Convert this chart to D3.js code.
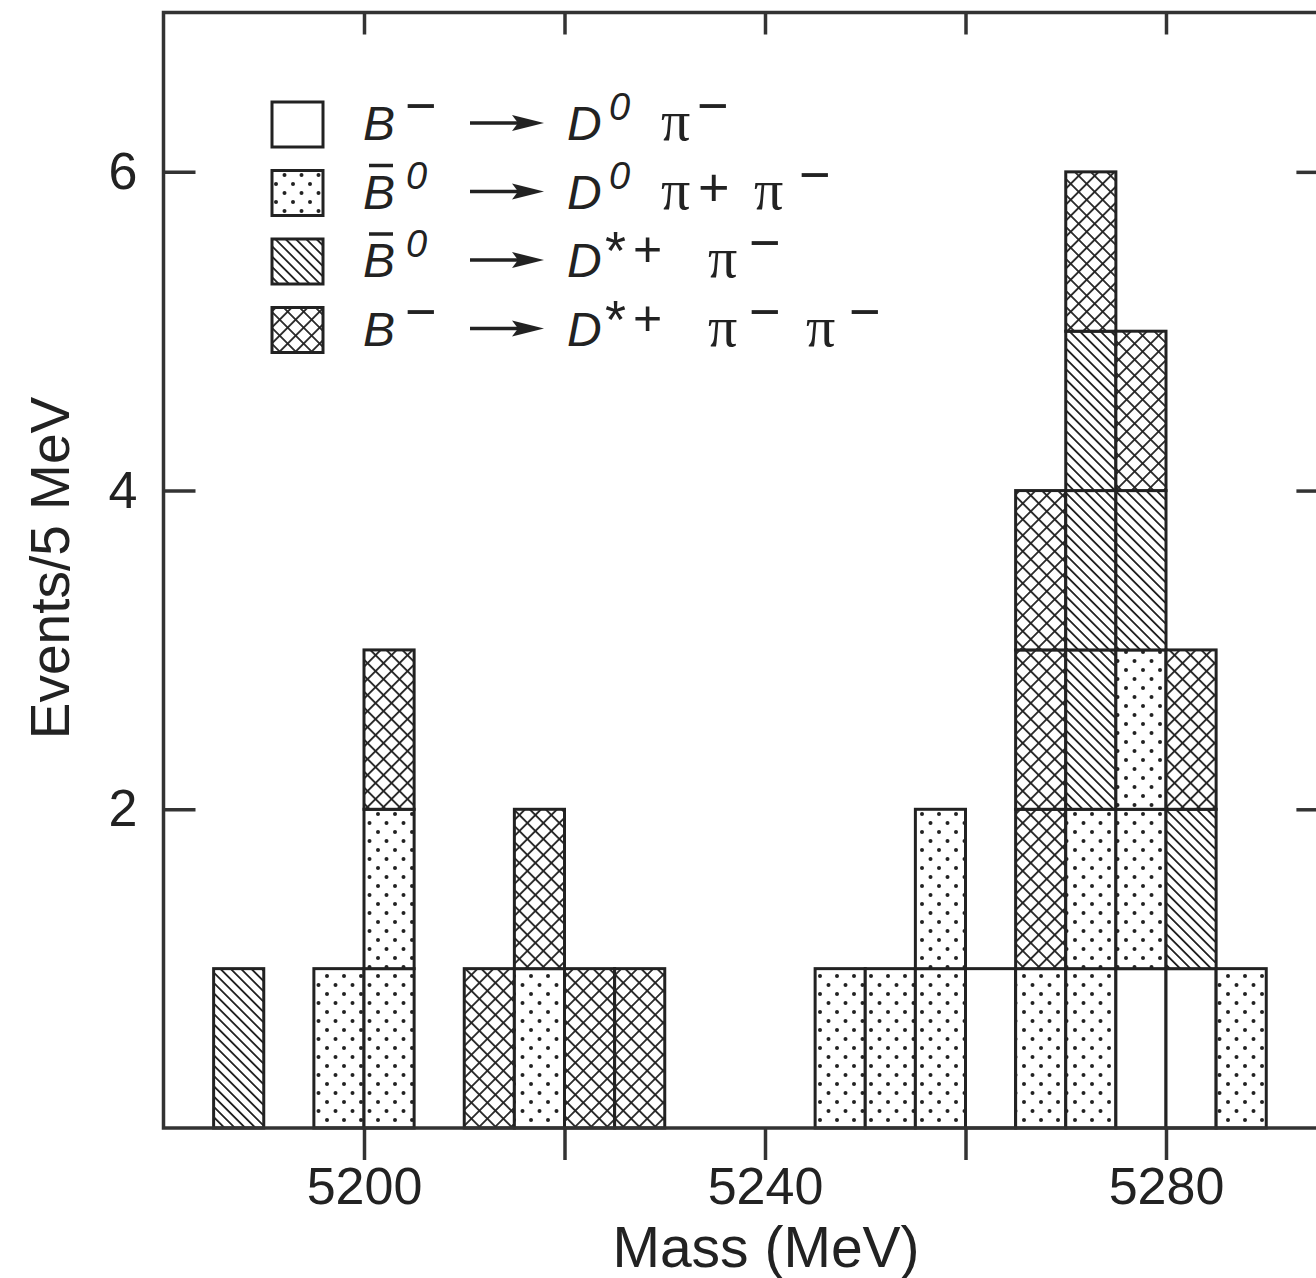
<!DOCTYPE html>
<html>
<head>
<meta charset="utf-8">
<style>
  body { margin: 0; background: #fff; }
  svg text { font-family: "Liberation Sans", Arial, sans-serif; fill: #222; }
</style>
</head>
<body>
<svg id="chart" width="1316" height="1278"></svg>
<script src="https://d3js.org/d3.v7.min.js"></script>
<script>
// 5 MeV bins, lower edge of each bin
var binStarts = [5185, 5195, 5200, 5210, 5215, 5220, 5225, 5245, 5250, 5255, 5260, 5265, 5270, 5275, 5280, 5285];
// events per bin for each decay mode (stacked bottom to top in this order)
var openCounts  = [0, 0, 0, 0, 0, 0, 0, 0, 0, 0, 1, 0, 0, 1, 1, 0];
var dotCounts   = [0, 1, 2, 0, 1, 0, 0, 1, 1, 2, 0, 1, 2, 2, 0, 1];
var hatchCounts = [1, 0, 0, 0, 0, 0, 0, 0, 0, 0, 0, 0, 3, 1, 1, 0];
var crossCounts = [0, 0, 1, 1, 1, 1, 1, 0, 0, 0, 0, 3, 1, 1, 1, 0];
var binWidth = 5;

var xTicks = [5200, 5240, 5280];
var xMinorTicks = [5200, 5220, 5240, 5260, 5280];
var yTicks = [2, 4, 6];

var modes = [
  {key: "open",  counts: openCounts},
  {key: "dot",   counts: dotCounts},
  {key: "hatch", counts: hatchCounts},
  {key: "cross", counts: crossCounts}
];

var svg = d3.select("#chart"),
    plotLeft = 163.5, plotTop = 12.5, plotBottom = 1128;

var x = d3.scaleLinear().domain([5180, 5296]).range([plotLeft, plotLeft + 116 * 10.025]);
var y = d3.scaleLinear().domain([0, 7]).range([plotBottom, plotTop]);
var plotRight = x.range()[1];

// fill patterns
var defs = svg.append("defs");
var pd = defs.append("pattern").attr("id", "dot").attr("patternUnits", "userSpaceOnUse")
    .attr("width", 17).attr("height", 18);
pd.append("rect").attr("width", 17).attr("height", 18).attr("fill", "#fff");
pd.append("circle").attr("cx", 4).attr("cy", 4).attr("r", 2).attr("fill", "#222");
pd.append("circle").attr("cx", 12.5).attr("cy", 13).attr("r", 2).attr("fill", "#222");

var ph = defs.append("pattern").attr("id", "hatch").attr("patternUnits", "userSpaceOnUse")
    .attr("width", 7.3).attr("height", 7.3).attr("patternTransform", "rotate(45)");
ph.append("rect").attr("width", 7.3).attr("height", 7.3).attr("fill", "#fff");
ph.append("line").attr("x1", 0).attr("x2", 7.3).attr("y1", 3.65).attr("y2", 3.65)
    .attr("stroke", "#222").attr("stroke-width", 1.8);

var pc = defs.append("pattern").attr("id", "cross").attr("patternUnits", "userSpaceOnUse")
    .attr("width", 11.3).attr("height", 11.3).attr("patternTransform", "rotate(45)");
pc.append("rect").attr("width", 11.3).attr("height", 11.3).attr("fill", "#fff");
pc.append("line").attr("x1", 0).attr("x2", 11.3).attr("y1", 5.65).attr("y2", 5.65)
    .attr("stroke", "#222").attr("stroke-width", 1.8);
pc.append("line").attr("y1", 0).attr("y2", 11.3).attr("x1", 5.65).attr("x2", 5.65)
    .attr("stroke", "#222").attr("stroke-width", 1.8);

function fillOf(key) { return key == "open" ? "#fff" : "url(#" + key + ")"; }

// one box per event
var boxes = [];
binStarts.forEach(function(b, i) {
  var level = 0;
  modes.forEach(function(m) {
    for (var k = 0; k < m.counts[i]; k++) {
      boxes.push({x0: b, x1: b + binWidth, y0: level, y1: level + 1, key: m.key});
      level++;
    }
  });
});

svg.append("g").selectAll("rect").data(boxes).join("rect")
    .attr("x", function(d) { return x(d.x0); })
    .attr("y", function(d) { return y(d.y1); })
    .attr("width", function(d) { return x(d.x1) - x(d.x0); })
    .attr("height", function(d) { return y(d.y0) - y(d.y1); })
    .attr("fill", function(d) { return fillOf(d.key); })
    .attr("stroke", "#222").attr("stroke-width", 3);

// frame and axes
var axisStyle = function(g) {
  g.select(".domain").remove();
  g.selectAll(".tick line").attr("stroke", "#333").attr("stroke-width", 3.5);
  g.selectAll(".tick text").style("font-size", "52px").attr("fill", "#333");
};

svg.append("g").attr("transform", "translate(0," + plotBottom + ")")
    .call(d3.axisBottom(x).tickValues(xMinorTicks).tickSize(32)
      .tickFormat(function(d) { return xTicks.indexOf(d) >= 0 ? d : ""; }))
    .call(axisStyle)
    .call(function(g) { g.selectAll(".tick text").attr("y", 39); });
svg.append("g").attr("transform", "translate(0," + plotTop + ")")
    .call(d3.axisBottom(x).tickValues(xMinorTicks).tickSize(22).tickFormat(""))
    .call(axisStyle);
svg.append("g").attr("transform", "translate(" + plotLeft + ",0)")
    .call(d3.axisRight(y).tickValues(yTicks).tickSize(32).tickFormat(""))
    .call(axisStyle);
svg.append("g").attr("transform", "translate(" + plotLeft + ",0)")
    .call(d3.axisLeft(y).tickValues(yTicks).tickSize(0).tickPadding(26).tickFormat(d3.format("d")))
    .call(axisStyle);
svg.append("g").attr("transform", "translate(" + plotRight + ",0)")
    .call(d3.axisLeft(y).tickValues(yTicks).tickSize(30).tickFormat(""))
    .call(axisStyle);

svg.append("rect").attr("x", plotLeft).attr("y", plotTop)
    .attr("width", plotRight - plotLeft).attr("height", plotBottom - plotTop)
    .attr("fill", "none").attr("stroke", "#333").attr("stroke-width", 3.5);

svg.append("text").attr("x", 766).attr("y", 1267)
    .attr("text-anchor", "middle").style("font-size", "57px").attr("fill", "#333")
    .text("Mass (MeV)");
svg.append("text").attr("transform", "translate(69,568) rotate(-90)")
    .attr("text-anchor", "middle").style("font-size", "55px").attr("fill", "#333")
    .text("Events/5 MeV");

// legend: each piece = [text, kind, x]
var MINUS = "\u2212", PI = "\u03c0";
var legendRows = [
  {key: "open",  bar: false,
   pieces: [["B", "it", 363], [MINUS, "supm", 405], ["D", "it", 567], ["0", "sup0", 609],
            [PI, "pi", 661], [MINUS, "supm", 697]]},
  {key: "dot",   bar: true,
   pieces: [["B", "it", 363], ["0", "sup0", 406], ["D", "it", 567], ["0", "sup0", 609],
            [PI, "pi", 661], ["+", "supp", 698], [PI, "pi", 754], [MINUS, "supm", 799]]},
  {key: "hatch", bar: true,
   pieces: [["B", "it", 363], ["0", "sup0", 406], ["D", "it", 567], ["*", "supa", 605],
            ["+", "supq", 633], [PI, "pi", 708], [MINUS, "supm", 749]]},
  {key: "cross", bar: false,
   pieces: [["B", "it", 363], [MINUS, "supm", 405], ["D", "it", 567], ["*", "supa", 605],
            ["+", "supq", 633], [PI, "pi", 708], [MINUS, "supm", 749], [PI, "pi", 806], [MINUS, "supm", 849]]}
];
var pieceStyle = {
  it:   {size: 48, raise: 0,  italic: true},
  pi:   {size: 58, raise: 0,  italic: false, serif: true},
  sup0: {size: 38, raise: 20, italic: true},
  supm: {size: 54, raise: 16, italic: false},
  supp: {size: 54, raise: 3,  italic: false},
  supq: {size: 50, raise: 11, italic: false},
  supa: {size: 54, raise: 8,  italic: false}
};

var lg = svg.append("g");
legendRows.forEach(function(r, i) {
  var base = 140 + i * 68.5;
  lg.append("rect").attr("x", 272).attr("y", base - 38).attr("width", 51).attr("height", 45)
      .attr("fill", fillOf(r.key)).attr("stroke", "#222").attr("stroke-width", 3);

  r.pieces.forEach(function(p) {
    var s = pieceStyle[p[1]];
    var t = lg.append("text").attr("x", p[2]).attr("y", base - s.raise)
        .style("font-size", s.size + "px")
        .style("font-style", s.italic ? "italic" : "normal")
        .text(p[0]);
    if (s.serif) t.style("font-family", "'Liberation Serif', 'DejaVu Serif', serif");
  });
  if (r.bar) {
    lg.append("line").attr("x1", 369).attr("x2", 393).attr("y1", base - 43).attr("y2", base - 43)
        .attr("stroke", "#222").attr("stroke-width", 3.5);
  }

  // arrow
  var ay = base - 17;
  lg.append("line").attr("x1", 470).attr("x2", 520).attr("y1", ay).attr("y2", ay)
      .attr("stroke", "#222").attr("stroke-width", 3.5);
  lg.append("path").attr("d", "M512," + (ay - 8) + " L544," + ay + " L512," + (ay + 8) + " L518," + ay + " Z")
      .attr("fill", "#222");
});
</script>
</body>
</html>
